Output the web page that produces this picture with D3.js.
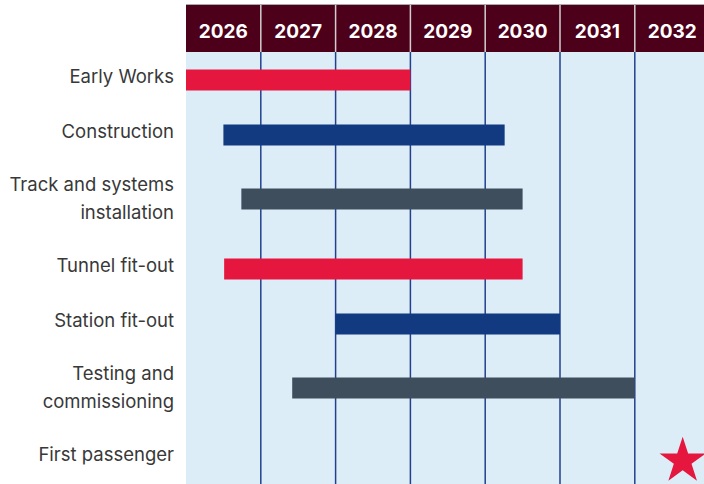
<!DOCTYPE html>
<html>
<head>
<meta charset="utf-8">
<script src="https://cdn.jsdelivr.net/npm/d3@7"></script>
<style>
  body { margin: 0; background: #fff; }
  svg { display: block; }
  .task-label { font-family: Inter, "Noto Sans", sans-serif; font-size: 18.5px; font-weight: 400; fill: #383838; }
  .year-label { font-family: Inter, "Liberation Sans", sans-serif; font-size: 19px; font-weight: 700; fill: #fff; }
</style>
</head>
<body>
<div class="chart-container"></div>
<script>
var width = 704, height = 484,
    margin = {top: 5, left: 186};

// data
var years = [2026, 2027, 2028, 2029, 2030, 2031, 2032];
var tasks = ["Early Works", "Construction", "Track and systems installation", "Tunnel fit-out",
             "Station fit-out", "Testing and commissioning", "First passenger"];
var labelLines = [["Early Works"], ["Construction"], ["Track and systems", "installation"], ["Tunnel fit-out"],
                  ["Station fit-out"], ["Testing and", "commissioning"], ["First passenger"]];
var starts = [2026.0, 2026.5, 2026.74, 2026.51, 2028.0, 2027.42, null];
var ends   = [2029.0, 2030.26, 2030.5, 2030.5, 2031.0, 2032.0, null];
var milestone = 2032.64;  // first passenger
var barColors = ["#e5173f", "#123a80", "#3e4e5d", "#e5173f", "#123a80", "#3e4e5d"];

var headerH = 47;
var lineH = 28;

var svg = d3.select('.chart-container')
    .append('svg')
    .attr('width', width)
    .attr('height', height);

var x = d3.scaleLinear()
    .domain([2026, 2033])
    .range([margin.left, margin.left + 7 * 74.8]);

var bodyTop = margin.top + headerH;

// row layout: single line rows 55px, two line rows a bit taller
var rows = [];
var rowTop = 48.5;
labelLines.forEach(function(lines, i) {
    var h = 55 + (lines.length - 1) * 24;
    rows.push({task: tasks[i], lines: lines, center: rowTop + h / 2, start: starts[i], end: ends[i], color: barColors[i]});
    rowTop += h;
});

// body background
svg.append('rect')
    .attr('x', x(2026))
    .attr('y', bodyTop)
    .attr('width', width - x(2026))
    .attr('height', height - bodyTop)
    .attr('fill', '#ddedf8');

// header
svg.append('rect')
    .attr('x', x(2026))
    .attr('y', margin.top)
    .attr('width', width - x(2026))
    .attr('height', headerH)
    .attr('fill', '#4d0019');
svg.append('line')
    .attr('x1', x(2026)).attr('x2', width)
    .attr('y1', margin.top - 0.5).attr('y2', margin.top - 0.5)
    .attr('stroke', '#aaa')
    .attr('stroke-width', 1);

svg.selectAll('.head-sep')
    .data(years.slice(1))
    .join('line')
    .attr('class', 'head-sep')
    .attr('x1', d => x(d)).attr('x2', d => x(d))
    .attr('y1', margin.top).attr('y2', bodyTop)
    .attr('stroke', '#cfcfcf')
    .attr('stroke-width', 1.5);

svg.selectAll('.year-label')
    .data(years)
    .join('text')
    .attr('class', 'year-label')
    .attr('x', d => (x(d) + x(d + 1)) / 2)
    .attr('y', 38)
    .attr('text-anchor', 'middle')
    .text(d => d);

// grid
svg.selectAll('.grid')
    .data(years.slice(1))
    .join('line')
    .attr('class', 'grid')
    .attr('x1', d => x(d)).attr('x2', d => x(d))
    .attr('y1', bodyTop).attr('y2', height)
    .attr('stroke', '#21408e')
    .attr('stroke-width', 1.5);

// labels
var labels = svg.selectAll('.task-label')
    .data(rows)
    .join('text')
    .attr('class', 'task-label')
    .attr('text-anchor', 'end')
    .attr('transform', d => `translate(${x(2026) - 12}, ${d.center - (d.lines.length - 1) * lineH / 2 + 7})`);
labels.selectAll('tspan')
    .data(d => d.lines)
    .join('tspan')
    .attr('x', 0)
    .attr('y', (d, i) => i * lineH)
    .text(d => d);

// bars
var barH = 21;
svg.selectAll('.bar')
    .data(rows.filter(d => d.start != null))
    .join('rect')
    .attr('class', 'bar')
    .attr('x', d => x(d.start))
    .attr('y', d => d.center + (d.lines.length > 1 ? 1 : 4) - barH / 2)
    .attr('width', d => x(d.end) - x(d.start))
    .attr('height', barH)
    .attr('fill', d => d.color);

// milestone star
var last = rows[rows.length - 1];
svg.append('path')
    .attr('d', d3.symbol().type(d3.symbolStar).size(665)())
    .attr('transform', `translate(${x(milestone)}, ${last.center + 7})`)
    .attr('fill', '#e5173f');
</script>
</body>
</html>
